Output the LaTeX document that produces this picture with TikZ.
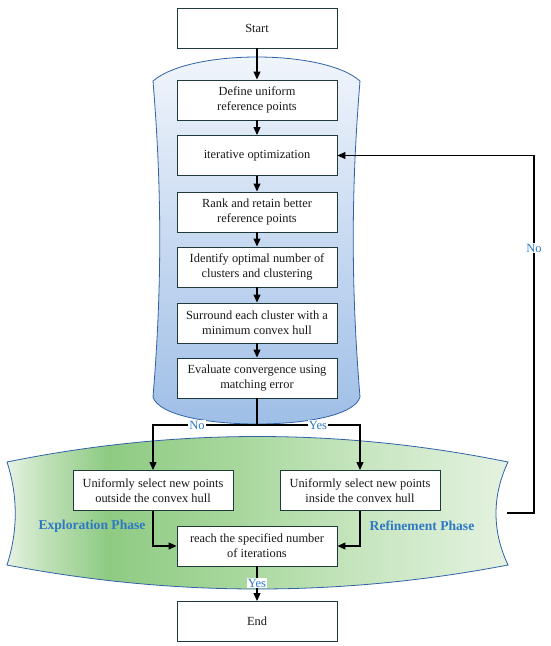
\documentclass[tikz,border=0pt]{standalone}
\usepackage{fontspec}
\setmainfont{Liberation Serif}
\usetikzlibrary{arrows.meta}
\definecolor{boxc}{HTML}{1E3A3A}
\definecolor{edgeblue}{HTML}{2F62A6}
\definecolor{lblblue}{HTML}{2E78C4}
\definecolor{bT}{HTML}{F2F6FC}
\definecolor{bB}{HTML}{9DBDE6}
\definecolor{gA}{HTML}{E6F2E3}
\definecolor{gB}{HTML}{BEE0B6}
\definecolor{gC}{HTML}{8FCB83}
\definecolor{gD}{HTML}{A5D69A}
\definecolor{gE}{HTML}{C6E5BE}
\definecolor{gF}{HTML}{E4F2E0}
\pgfdeclarehorizontalshading{greensh}{100bp}{color(0bp)=(gA); color(25bp)=(gA); color(29bp)=(gB); color(35bp)=(gC); color(47bp)=(gD); color(60bp)=(gE); color(75bp)=(gF); color(100bp)=(gF)}
\tikzset{
  stepbox/.style={draw=boxc, fill=white, line width=0.9pt, minimum width=160pt, minimum height=40pt, inner sep=0pt, align=center, text=black!90, font=\fontsize{12.4}{15}\selectfont},
  arr/.style={line width=1.1pt, -{Triangle[length=8pt,width=7pt]}},
  conn/.style={line width=1.1pt},
  lbl/.style={fill=white, inner sep=1pt, text=lblblue, font=\fontsize{12.5}{14}\selectfont},
  phase/.style={text=lblblue, font=\fontsize{13.6}{15}\selectfont\bfseries},
  region/.style={draw=edgeblue, line width=0.8pt}
}
\begin{document}
\begin{tikzpicture}[x=1pt,y=-1pt]
\useasboundingbox (0,0) rectangle (550,646);
% blue region
\path[region, top color=bT, bottom color=bB]
  (153,81) .. controls (190,49) and (324,49) .. (360,81)
  .. controls (351,190) and (351,288) .. (360,397)
  .. controls (350,433) and (164,433) .. (153,397)
  .. controls (162,288) and (162,190) .. (153,81) -- cycle;
% green region
\path[region, shading=greensh]
  (7,462) .. controls (174,428) and (341,428) .. (508,462)
  .. controls (492,496) and (492,531) .. (508,565)
  .. controls (341,597) and (174,597) .. (7,565)
  .. controls (18,531) and (18,496) .. (7,462) -- cycle;

\node[stepbox] (start) at (257,28) {Start};
\node[stepbox] (define) at (257,100) {Define uniform\\reference points};
\node[stepbox] (iter) at (257,155.5) {iterative optimization};
\node[stepbox] (rank) at (257,212) {Rank and retain better\\reference points};
\node[stepbox] (ident) at (257,267) {Identify optimal number of\\clusters and clustering};
\node[stepbox] (surr) at (257,323) {Surround each cluster with a\\minimum convex hull};
\node[stepbox] (eval) at (257,378) {Evaluate convergence using\\matching error};
\node[stepbox] (out) at (153,490.5) {Uniformly select new points\\outside the convex hull};
\node[stepbox] (in) at (360,490.5) {Uniformly select new points\\inside the convex hull};
\node[stepbox] (reach) at (257,546) {reach the specified number\\of iterations};
\node[stepbox] (end) at (257,621.5) {End};

\node[phase] (expl) at (92,526) {Exploration Phase};
\node[phase] (refi) at (422,526) {Refinement Phase};

\draw[arr] (start) -- (define);
\draw[arr] (define) -- (iter);
\draw[arr] (iter) -- (rank);
\draw[arr] (rank) -- (ident);
\draw[arr] (ident) -- (surr);
\draw[arr] (surr) -- (eval);

\coordinate (br) at (257,425);
\draw[conn] (eval) -- (br);
\draw[arr] (br) -| (out);
\draw[arr] (br) -| (in);
\node[lbl] (no1) at (197,425) {No};
\node[lbl] (yes1) at (318,425) {Yes};

\draw[arr] (out) |- (reach);
\draw[arr] (in) |- (reach);

\draw[arr] (reach) -- (end);
\node[lbl, inner sep=0.5pt] (yes2) at (257,583) {Yes};

\coordinate (fb) at (507,513);
\coordinate (fbc) at (534,513);
\draw[arr] (fb) -- (fbc) |- (iter);
\node[lbl] (no2) at (534,248) {No};
\end{tikzpicture}
\end{document}
